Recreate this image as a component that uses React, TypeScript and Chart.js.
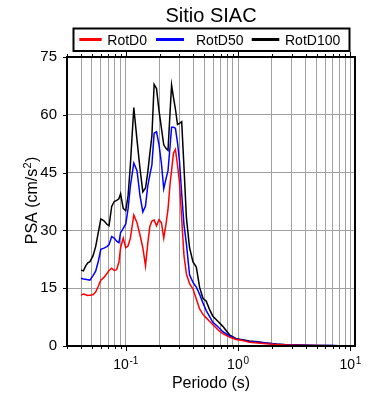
import React, { useEffect, useRef } from "react";
import { Chart, registerables } from "chart.js";

Chart.register(...registerables);

// ---- Data ----
const periods = [
  0.04, 0.042, 0.044, 0.046, 0.048, 0.051, 0.054, 0.057, 0.06, 0.064,
  0.068, 0.071, 0.075, 0.079, 0.083, 0.087, 0.09, 0.095, 0.1, 0.105,
  0.11, 0.118, 0.126, 0.134, 0.142, 0.15, 0.157, 0.164, 0.171, 0.179,
  0.188, 0.198, 0.208, 0.218, 0.228, 0.238, 0.248, 0.256, 0.266, 0.277,
  0.289, 0.301, 0.315, 0.33, 0.347, 0.37, 0.397, 0.425, 0.455, 0.487,
  0.521, 0.557, 0.595, 0.661, 0.732, 0.839, 0.962, 1.1, 1.26, 1.5,
  1.77, 2.2, 2.67, 3.3, 4.0, 5.0, 6.5, 8.0, 10.0,
];

const rotD0 = [
  13.2, 13.5, 13.3, 13.1, 13.2, 13.3, 14.0, 15.5, 17.1, 17.8,
  18.8, 19.6, 20.2, 19.6, 19.8, 21.8, 25.5, 28.0, 25.5, 26.0,
  28.0, 34.0, 32.0, 28.8, 25.5, 20.8, 26.5, 31.0, 32.4, 32.7,
  31.2, 32.8, 32.0, 28.0, 31.5, 35.5, 42.0, 45.5, 50.0, 51.0,
  47.0, 42.5, 33.0, 23.5, 18.7, 16.2, 14.8, 12.2, 9.6, 8.2,
  7.3, 6.4, 5.6, 4.2, 3.2, 2.3, 1.7, 1.4, 1.0, 0.8,
  0.6, 0.4, 0.28, 0.2, 0.15, 0.11, 0.08, 0.06, 0.05,
];

const rotD50 = [
  17.6, 17.4, 17.3, 17.2, 17.1, 18.2, 19.4, 22.0, 25.1, 25.4,
  25.8, 26.3, 28.4, 28.0, 27.2, 26.8, 29.4, 30.5, 31.6, 35.7,
  41.5, 47.5, 45.5, 39.0, 34.8, 36.3, 41.5, 44.4, 47.0, 55.2,
  55.6, 52.2, 47.3, 40.8, 43.3, 45.5, 51.7, 56.8, 56.8, 56.5,
  52.8, 48.0, 39.5, 31.5, 26.5, 18.5, 16.5, 15.3, 13.4, 11.2,
  9.2, 7.7, 6.2, 5.0, 3.7, 2.6, 1.8, 1.5, 1.2, 1.0,
  0.75, 0.45, 0.32, 0.23, 0.18, 0.13, 0.1, 0.08, 0.06,
];

const rotD100 = [
  19.7, 19.5, 20.8, 21.6, 21.9, 23.3, 25.8, 29.5, 33.0, 32.5,
  31.6, 31.2, 36.2, 37.5, 37.8, 38.2, 39.5, 35.7, 35.1, 39.0,
  47.0, 61.9, 53.5, 46.0, 40.0, 41.0, 45.0, 50.0, 54.5, 67.9,
  66.8, 61.0, 56.5, 52.2, 51.3, 50.8, 60.5, 67.7, 64.5, 61.5,
  57.5, 57.8, 58.2, 46.5, 33.3, 25.5, 21.8, 20.5, 15.2, 12.4,
  11.6, 9.5, 7.8, 6.4, 5.1, 2.9, 1.9, 1.6, 1.3, 1.1,
  0.8, 0.5, 0.35, 0.25, 0.2, 0.15, 0.11, 0.09, 0.07,
];

const seriesLabels = ["RotD0", "RotD50", "RotD100"];
const seriesColors = ["#ff0000", "#0000ff", "#000000"];

const xGridTicks = [
  0.03, 0.04, 0.05, 0.06, 0.07, 0.08, 0.09,
  0.1, 0.2, 0.3, 0.4, 0.5, 0.6, 0.7, 0.8, 0.9,
  1, 2, 3, 4, 5, 6, 7, 8, 9, 10,
];
const xLabelTicks = [0.1, 1, 10];
const xLabelExps = ["-1", "0", "1"];
const yTickValues = [0, 15, 30, 45, 60, 75];

const chartTitle = "Sitio SIAC";
const xTitle = "Periodo (s)";
const yTitleMain = "PSA (cm/s";
const yTitleSup = "2";
const yTitleEnd = ")";

const FONT = "'Liberation Sans', Arial, Helvetica, sans-serif";
const GRID = "#a0a0a0";

const decorPlugin = {
  id: "decor",
  afterDraw(chart: any) {
    const { ctx, chartArea: a, scales } = chart;
    const xs = scales.x;
    const ys = scales.y;
    ctx.save();

    const line = (x1: number, y1: number, x2: number, y2: number) => {
      ctx.beginPath();
      ctx.moveTo(x1, y1);
      ctx.lineTo(x2, y2);
      ctx.stroke();
    };

    // frame
    ctx.strokeStyle = "#000";
    ctx.lineWidth = 2;
    ctx.strokeRect(a.left, a.top, a.right - a.left, a.bottom - a.top);

    // x ticks (top and bottom, outward)
    ctx.lineWidth = 1;
    for (const v of xGridTicks) {
      const px = Math.round(xs.getPixelForValue(v)) + 0.5;
      const len = xLabelTicks.includes(v) ? 5 : 3;
      line(px, a.bottom, px, a.bottom + len);
      line(px, a.top, px, a.top - len);
    }
    // y ticks (left, outward)
    for (const v of yTickValues) {
      const py = Math.round(ys.getPixelForValue(v)) + 0.5;
      line(a.left - 4, py, a.left, py);
    }

    ctx.fillStyle = "#000";
    ctx.textBaseline = "alphabetic";
    ctx.textAlign = "left";

    // x tick labels with superscript exponents
    xLabelTicks.forEach((v, i) => {
      const px = xs.getPixelForValue(v);
      ctx.font = `14px ${FONT}`;
      const wMain = ctx.measureText("10").width;
      ctx.font = `10px ${FONT}`;
      const wExp = ctx.measureText(xLabelExps[i]).width;
      const total = wMain + 0.7 + wExp;
      const sx = px - total / 2;
      ctx.font = `14px ${FONT}`;
      ctx.fillText("10", sx, 368.5);
      ctx.font = `10px ${FONT}`;
      ctx.fillText(xLabelExps[i], sx + wMain + 0.7, 363.5);
    });

    // x title
    ctx.font = `16px ${FONT}`;
    ctx.textAlign = "center";
    ctx.fillText(xTitle, (a.left + a.right) / 2, 387.5);

    // chart title
    ctx.font = `20px ${FONT}`;
    ctx.fillText(chartTitle, (a.left + a.right) / 2, 22);

    // y title (rotated)
    ctx.save();
    ctx.translate(36.7, 200.5);
    ctx.rotate(-Math.PI / 2);
    ctx.textAlign = "left";
    ctx.font = `16px ${FONT}`;
    const w1 = ctx.measureText(yTitleMain).width;
    const w3 = ctx.measureText(yTitleEnd).width;
    ctx.font = `11px ${FONT}`;
    const w2 = ctx.measureText(yTitleSup).width;
    const tot = w1 + w2 + w3 + 0.5;
    let cx = -tot / 2;
    ctx.font = `16px ${FONT}`;
    ctx.fillText(yTitleMain, cx, 0);
    cx += w1 + 0.3;
    ctx.font = `11px ${FONT}`;
    ctx.fillText(yTitleSup, cx, -6);
    cx += w2 + 0.2;
    ctx.font = `16px ${FONT}`;
    ctx.fillText(yTitleEnd, cx, 0);
    ctx.restore();

    // legend box
    ctx.fillStyle = "#fff";
    ctx.fillRect(73.5, 28.5, 276, 22.5);
    ctx.strokeStyle = "#000";
    ctx.lineWidth = 2;
    ctx.strokeRect(73.5, 28.5, 276, 22.5);
    const segX = [[79.3, 101.7], [156, 184], [251.7, 279.3]];
    const txtX = [107.3, 196, 285];
    chart.data.datasets.forEach((ds: any, i: number) => {
      ctx.strokeStyle = ds.borderColor;
      ctx.lineWidth = 3;
      line(segX[i][0], 39.5, segX[i][1], 39.5);
      ctx.fillStyle = "#000";
      ctx.textAlign = "left";
      ctx.font = `14px ${FONT}`;
      ctx.fillText(ds.label, txtX[i], 44.5);
    });

    ctx.restore();
  },
};

export default function App() {
  const canvasRef = useRef<HTMLCanvasElement | null>(null);

  useEffect(() => {
    const canvas = canvasRef.current;
    if (!canvas) return;
    const seriesValues = [rotD0, rotD50, rotD100];
    const chart = new Chart(canvas, {
      type: "line",
      data: {
        datasets: seriesValues.map((vals, i) => ({
          label: seriesLabels[i],
          data: periods.map((p, j) => ({ x: p, y: vals[j] })),
          borderColor: seriesColors[i],
          backgroundColor: seriesColors[i],
          borderWidth: 1.5,
          pointRadius: 0,
          fill: false,
          tension: 0,
        })),
      },
      options: {
        responsive: false,
        animation: false,
        devicePixelRatio: 1,
        layout: { padding: { top: 57, right: 35, left: 0, bottom: 0 } },
        plugins: {
          legend: { display: false },
          title: { display: false },
          tooltip: { enabled: false },
        },
        scales: {
          x: {
            type: "logarithmic",
            min: 0.03,
            max: 11,
            border: { display: false },
            grid: { color: GRID, lineWidth: 1, drawTicks: false },
            ticks: { display: false },
            afterBuildTicks: (s: any) => {
              s.ticks = xGridTicks.map((v) => ({ value: v }));
            },
            afterFit: (s: any) => {
              s.height = 54;
            },
          },
          y: {
            type: "linear",
            min: 0,
            max: 75,
            border: { display: false },
            grid: { color: GRID, lineWidth: 1, drawTicks: false },
            ticks: {
              stepSize: 15,
              padding: 10,
              color: "#000",
              font: { family: FONT, size: 15 },
            },
            afterFit: (s: any) => {
              s.width = 67;
            },
          },
        },
      },
      plugins: [decorPlugin],
    });
    return () => chart.destroy();
  }, []);

  return (
    <div
      style={{
        position: "absolute",
        left: 0,
        top: 0,
        width: 390,
        height: 400,
        background: "#fff",
      }}
    >
      <canvas
        ref={canvasRef}
        width={390}
        height={400}
        style={{ display: "block", width: 390, height: 400 }}
      />
    </div>
  );
}
